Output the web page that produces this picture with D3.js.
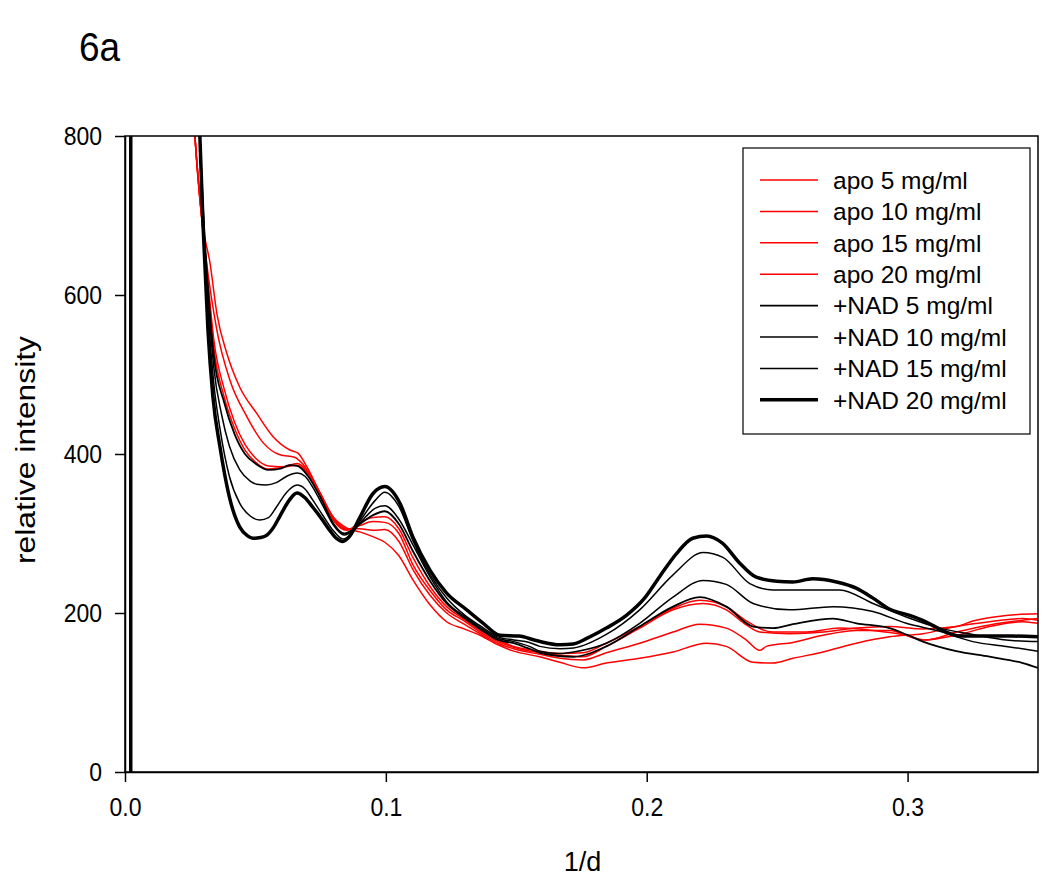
<!DOCTYPE html>
<html>
<head>
<meta charset="utf-8">
<script src="https://cdn.jsdelivr.net/npm/d3@7"></script>
<style>
  html, body { margin: 0; padding: 0; background: #fff; }
  svg { display: block; }
  text { font-family: "Liberation Sans", Arial, sans-serif; fill: #000; }
</style>
</head>
<body>
<svg id="chart" width="1050" height="885"></svg>
<script>
// ---------------- DATA ----------------
const seriesNames = ["apo 5 mg/ml", "apo 10 mg/ml", "apo 15 mg/ml", "apo 20 mg/ml",
                     "+NAD 5 mg/ml", "+NAD 10 mg/ml", "+NAD 15 mg/ml", "+NAD 20 mg/ml"];
const xTicks = [0, 0.1, 0.2, 0.3];
const yTicks = [0, 200, 400, 600, 800];

const apo5 = [[0.022,1150],[0.0268,800],[0.0295,694],[0.0326,640],[0.0352,577],[0.039,527],[0.044,484],[0.0505,451],[0.0567,422],[0.0632,405],[0.0663,401],[0.0697,384],[0.0747,351],[0.0797,321],[0.085,307],[0.090,302],[0.095,296],[0.0996,289],[0.105,272],[0.1105,241],[0.117,210],[0.1233,189],[0.130,180],[0.1361,172],[0.143,160],[0.149,152],[0.159,145],[0.1667,138],[0.1756,131],[0.1845,137],[0.1973,143],[0.2101,151],[0.2229,162],[0.2305,158],[0.2408,138],[0.2484,137],[0.2561,143],[0.2676,151],[0.2804,162],[0.2931,170],[0.3059,174],[0.3187,183],[0.3314,189],[0.3442,193],[0.35,191]];
const apo10 = [[0.022,1130],[0.0268,800],[0.0295,694],[0.0352,556],[0.0402,493],[0.0467,447],[0.053,414],[0.0594,399],[0.065,396],[0.068,388],[0.0747,351],[0.080,320],[0.085,306],[0.090,306],[0.095,304],[0.0996,305],[0.105,290],[0.1105,254],[0.117,222],[0.1233,200],[0.130,186],[0.1361,174],[0.143,162],[0.149,155],[0.159,148],[0.1667,143],[0.1756,141],[0.1845,150],[0.1973,162],[0.2101,176],[0.2203,186],[0.2305,181],[0.2382,166],[0.2433,153],[0.2459,158],[0.2561,163],[0.2676,172],[0.2804,178],[0.2931,178],[0.3059,166],[0.3187,172],[0.3314,183],[0.3442,189],[0.35,187]];
const apo15 = [[0.022,1120],[0.0268,800],[0.0295,694],[0.032,610],[0.034,545],[0.038,482],[0.042,440],[0.046,412],[0.050,395],[0.055,385],[0.060,384],[0.066,388],[0.070,378],[0.075,350],[0.080,318],[0.085,305],[0.090,310],[0.095,315],[0.0996,314],[0.105,300],[0.1105,260],[0.117,228],[0.1233,204],[0.130,190],[0.1361,176],[0.143,164],[0.149,157],[0.159,150],[0.1667,147],[0.1756,145],[0.1845,158],[0.1973,181],[0.2101,204],[0.2216,212],[0.2305,204],[0.2382,185],[0.2433,176],[0.2548,174],[0.2676,176],[0.2804,181],[0.2931,183],[0.3059,180],[0.3187,183],[0.325,190],[0.3378,197],[0.35,199]];
const apo20 = [[0.022,1110],[0.0268,800],[0.0295,694],[0.032,605],[0.034,535],[0.038,472],[0.042,432],[0.046,405],[0.050,390],[0.055,381],[0.060,383],[0.066,386],[0.070,376],[0.075,348],[0.080,316],[0.085,304],[0.090,314],[0.095,320],[0.0996,321],[0.105,306],[0.1105,269],[0.117,233],[0.1233,208],[0.130,192],[0.1361,178],[0.143,166],[0.149,158],[0.159,152],[0.1667,149],[0.1756,150],[0.1845,162],[0.1973,183],[0.2101,206],[0.2203,216],[0.2305,208],[0.2382,190],[0.2484,176],[0.2612,176],[0.274,181],[0.2867,178],[0.2995,172],[0.3071,166],[0.3187,176],[0.3314,185],[0.3442,191],[0.35,193]];
const nad5 = [[0.025,1060],[0.0287,800],[0.030,705],[0.032,600],[0.034,525],[0.038,465],[0.042,425],[0.046,400],[0.050,388],[0.055,380],[0.060,382],[0.063,386],[0.066,385],[0.070,373],[0.075,345],[0.080,312],[0.084,300],[0.090,312],[0.095,323],[0.0996,328],[0.105,312],[0.1105,277],[0.117,240],[0.1233,212],[0.130,194],[0.1361,180],[0.143,166],[0.149,162],[0.155,155],[0.159,150],[0.1718,145],[0.1845,158],[0.1973,183],[0.2101,208],[0.2203,220],[0.2305,208],[0.2408,183],[0.2484,181],[0.2561,186],[0.2714,193],[0.2804,187],[0.2931,181],[0.2995,173],[0.3059,164],[0.3187,152],[0.3314,145],[0.3442,137],[0.35,131]];
const nad10 = [[0.025,1080],[0.0287,800],[0.030,700],[0.032,590],[0.034,510],[0.037,450],[0.040,410],[0.044,380],[0.048,366],[0.0505,362],[0.054,361],[0.058,364],[0.062,372],[0.066,376],[0.069,372],[0.072,358],[0.076,334],[0.080,310],[0.084,298],[0.088,305],[0.092,320],[0.096,332],[0.0996,335],[0.105,318],[0.1105,285],[0.117,245],[0.1233,214],[0.130,196],[0.1361,182],[0.143,168],[0.149,164],[0.155,158],[0.159,152],[0.1667,149],[0.172,151],[0.1845,162],[0.1973,187],[0.2101,220],[0.2216,241],[0.2305,236],[0.2408,212],[0.2548,204],[0.2714,208],[0.2867,202],[0.2995,187],[0.3123,177],[0.325,164],[0.3378,158],[0.35,152]];
const nad15 = [[0.025,1100],[0.0287,800],[0.030,690],[0.032,570],[0.034,490],[0.0365,430],[0.040,372],[0.044,338],[0.048,322],[0.0517,317],[0.055,320],[0.058,333],[0.062,352],[0.066,361],[0.069,356],[0.072,342],[0.076,322],[0.080,303],[0.0835,293],[0.087,300],[0.091,320],[0.096,342],[0.0996,352],[0.105,334],[0.1105,290],[0.117,248],[0.1233,219],[0.130,198],[0.1361,184],[0.143,170],[0.149,166],[0.155,163],[0.159,158],[0.1667,155],[0.172,156],[0.1845,173],[0.1973,204],[0.2101,248],[0.2216,276],[0.2292,270],[0.2395,237],[0.2484,229],[0.2612,229],[0.274,229],[0.2867,212],[0.2995,195],[0.3123,181],[0.325,173],[0.3378,166],[0.35,164]];
const nad20 = [[0.0022,0],[0.00225,6000],[0.015,3000],[0.025,1150],[0.0287,800],[0.030,682],[0.0318,556],[0.0337,472],[0.0364,409],[0.040,346],[0.044,308],[0.047,297],[0.049,294],[0.052,295],[0.0544,298],[0.057,308],[0.0594,322],[0.063,342],[0.0659,351],[0.069,345],[0.072,333],[0.0755,318],[0.0785,304],[0.081,294],[0.0835,290],[0.086,296],[0.090,320],[0.095,350],[0.0996,359],[0.1054,338],[0.1103,296],[0.1169,254],[0.1233,225],[0.131,204],[0.137,188],[0.1437,172],[0.151,171],[0.158,165],[0.1667,160],[0.1718,161],[0.177,168],[0.1845,181],[0.1922,197],[0.199,218],[0.205,246],[0.2115,275],[0.2176,294],[0.223,297],[0.229,288],[0.2356,263],[0.242,245],[0.2498,240],[0.256,239],[0.2636,243],[0.2728,239],[0.2805,231],[0.2866,219],[0.293,205],[0.3008,197],[0.307,189],[0.3134,178],[0.32,171],[0.33,171],[0.34,171],[0.35,170]];

const seriesValues = [apo5, apo10, apo15, apo20, nad5, nad10, nad15, nad20];
const seriesColors = ["#ff0000","#ff0000","#ff0000","#ff0000","#000","#000","#000","#000"];
const seriesWidths = [1.5,1.5,1.5,1.5,1.8,1.5,1.5,3.5];

// ---------------- CHART ----------------
const svg = d3.select("#chart");
const L = 125, R = 1038, T = 136, B = 772;
const x = d3.scaleLinear().domain([0, 0.35]).range([L, R]);
const y = d3.scaleLinear().domain([0, 800]).range([B, T]);

svg.append("defs").append("clipPath").attr("id", "clip")
  .append("rect").attr("x", L).attr("y", T).attr("width", R - L).attr("height", B - T);

const line = d3.line().x(d => x(d[0])).y(d => y(d[1])).curve(d3.curveMonotoneX);

const g = svg.append("g").attr("clip-path", "url(#clip)");
seriesValues.forEach((vals, i) => {
  g.append("path").datum(vals)
    .attr("d", line)
    .attr("fill", "none")
    .attr("stroke", seriesColors[i])
    .attr("stroke-width", seriesWidths[i])
    .attr("stroke-linejoin", "round");
});

// frame
svg.append("rect").attr("x", L).attr("y", T).attr("width", R - L).attr("height", B - T)
  .attr("fill", "none").attr("stroke", "#000").attr("stroke-width", 1.5);

// axes
const vStretch = 1.15;
const xAxis = svg.append("g").attr("transform", `translate(0,${B})`)
  .call(d3.axisBottom(x).tickValues(xTicks).tickFormat(d3.format(".1f")).tickSize(10).tickSizeOuter(0).tickPadding(15));
const yAxis = svg.append("g").attr("transform", `translate(${L},0)`)
  .call(d3.axisLeft(y).tickValues(yTicks).tickFormat(d3.format("d")).tickSize(10).tickSizeOuter(0).tickPadding(13));
[xAxis, yAxis].forEach(a => {
  a.select(".domain").attr("stroke", "#000").attr("stroke-width", 1.5);
  a.selectAll(".tick line").attr("stroke", "#000").attr("stroke-width", 1.5);
  a.selectAll(".tick text").attr("font-size", 23).attr("font-family", "'Liberation Sans', Arial, sans-serif")
    .attr("fill", "#000").attr("transform", `scale(1,${vStretch})`);
});
xAxis.selectAll(".tick text").attr("y", 25 / vStretch);

// axis titles
svg.append("text").attr("x", (L + R) / 2 + 1).attr("y", 871).attr("text-anchor", "middle")
  .attr("font-size", 27).text("1/d");
svg.append("text").attr("transform", `translate(35,${(T + B) / 2 - 4}) rotate(-90)`)
  .attr("text-anchor", "middle").attr("font-size", 27)
  .attr("textLength", 228).attr("lengthAdjust", "spacingAndGlyphs").text("relative intensity");

// panel label
svg.append("text").attr("transform", `translate(79,61) scale(1,1.12)`).attr("font-size", 37).text("6a");

// legend
const lg = svg.append("g");
lg.append("rect").attr("x", 743).attr("y", 148).attr("width", 287).attr("height", 286)
  .attr("fill", "#fff").attr("stroke", "#000").attr("stroke-width", 1.2);
seriesNames.forEach((name, i) => {
  const yy = 180 + i * 31.4;
  lg.append("line").attr("x1", 760).attr("x2", 818).attr("y1", yy).attr("y2", yy)
    .attr("stroke", seriesColors[i]).attr("stroke-width", seriesWidths[i]);
  lg.append("text").attr("x", 833).attr("y", yy).attr("dy", "0.36em")
    .attr("font-size", 24.5).text(name);
});
</script>
</body>
</html>
